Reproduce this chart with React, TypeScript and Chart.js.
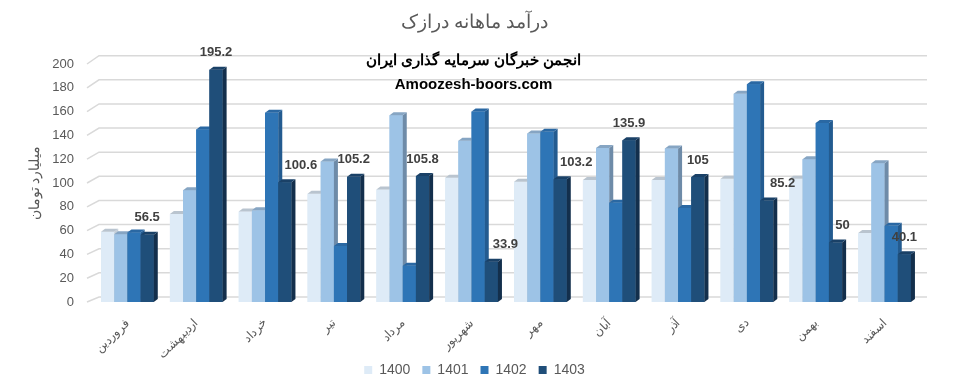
import React, { useEffect, useRef } from "react";
import { Chart, registerables } from "chart.js";

Chart.register(...registerables);

// Monthly revenue (billion toman) per Persian month, one array per fiscal year
const months = [
  "فروردین",
  "اردیبهشت",
  "خرداد",
  "تیر",
  "مرداد",
  "شهریور",
  "مهر",
  "آبان",
  "آذر",
  "دی",
  "بهمن",
  "اسفند",
];
const years = ["1400", "1401", "1402", "1403"];
const rev1400 = [59, 74, 76, 91, 94.5, 104.5, 101, 102.5, 102.5, 103.5, 103.5, 58];
const rev1401 = [57, 94, 77, 118, 157, 135.5, 141.5, 129.5, 129, 175, 120, 116.5];
const rev1402 = [58.5, 145, 159, 47, 30.5, 160, 143, 83.5, 79, 183, 150.5, 64];
const rev1403 = [56.5, 195.2, 100.6, 105.2, 105.8, 33.9, 103.2, 135.9, 105, 85.2, 50, 40.1];
const yMin = 0;
const yMax = 200;
const yStep = 20;

const chartTitle = "درآمد ماهانه درازک";
const yTitle = "میلیارد تومان";
const brandLine1 = "انجمن خبرگان سرمایه گذاری ایران";
const brandLine2 = "Amoozesh-boors.com";

// face colours for the pseudo-3D columns: front, top cap, right side
const FRONT = ["#DEEBF7", "#9DC3E6", "#2E75B6", "#1F4E79"];
const TOP = ["#B9C4CF", "#86A5C3", "#2A68A3", "#1A4167"];
const SIDE = ["#C4CED8", "#6E8BA8", "#235B90", "#132F4C"];
const DEPTH_X = 4;
const DEPTH_Y = 3;

// horizontal shift of a few value labels so they clear the neighbouring column
const LABEL_SHIFT: Record<number, number> = { 2: 16, 5: 14, 6: 16, 9: 16, 10: 7 };

const FONT = "'Liberation Sans', Arial, sans-serif";
const GREY = "#595959";

const backWallGrid = {
  id: "backWallGrid",
  beforeDatasetsDraw(chart: any) {
    const { ctx, chartArea, scales } = chart;
    const ys = scales.y;
    ctx.save();
    ctx.strokeStyle = "#D9D9D9";
    ctx.lineWidth = 1.5;
    for (const t of ys.ticks) {
      const v = t.value;
      const yf = ys.getPixelForValue(v);
      const yb = yf - (5 + (3.3 * v) / yMax);
      ctx.beginPath();
      ctx.moveTo(chartArea.left - 6, yf);
      ctx.lineTo(chartArea.left + 6, yb);
      ctx.lineTo(chartArea.right + 8, yb);
      ctx.stroke();
    }
    ctx.restore();
  },
};

const columns3d = {
  id: "columns3d",
  afterDatasetsDraw(chart: any) {
    const { ctx } = chart;
    const metas = chart.data.datasets.map((_: any, i: number) => chart.getDatasetMeta(i));
    const n = chart.data.labels.length;
    ctx.save();
    for (let j = 0; j < n; j++) {
      metas.forEach((meta: any, i: number) => {
        const el = meta.data[j];
        if (!el) return;
        const { x, y, base, width } = el.getProps(["x", "y", "base", "width"], true);
        const l = x - width / 2;
        const r = x + width / 2;
        ctx.fillStyle = FRONT[i];
        ctx.fillRect(l, y, width, base - y);
        ctx.fillStyle = SIDE[i];
        ctx.beginPath();
        ctx.moveTo(r, y);
        ctx.lineTo(r + DEPTH_X, y - DEPTH_Y);
        ctx.lineTo(r + DEPTH_X, base - DEPTH_Y);
        ctx.lineTo(r, base);
        ctx.closePath();
        ctx.fill();
        ctx.fillStyle = TOP[i];
        ctx.beginPath();
        ctx.moveTo(l, y);
        ctx.lineTo(l + DEPTH_X, y - DEPTH_Y);
        ctx.lineTo(r + DEPTH_X, y - DEPTH_Y);
        ctx.lineTo(r, y);
        ctx.closePath();
        ctx.fill();
      });
    }
    // value labels on the latest year
    const last = metas.length - 1;
    const vals = chart.data.datasets[last].data;
    ctx.fillStyle = "#404040";
    ctx.font = `bold 13px ${FONT}`;
    ctx.textAlign = "center";
    ctx.textBaseline = "middle";
    metas[last].data.forEach((el: any, j: number) => {
      const { x, y } = el.getProps(["x", "y"], true);
      ctx.fillText(String(vals[j]), x + (LABEL_SHIFT[j] || 0), y - 17);
    });
    ctx.restore();
  },
};

const brand = {
  id: "brand",
  afterDraw(chart: any) {
    const { ctx } = chart;
    const cx = chart.width / 2 - 4;
    ctx.save();
    ctx.fillStyle = "#000000";
    ctx.textAlign = "center";
    ctx.textBaseline = "middle";
    ctx.font = `bold 15px ${FONT}`;
    ctx.fillText(brandLine1, cx, 61);
    ctx.fillText(brandLine2, cx, 85);
    ctx.restore();
  },
};

export default function App() {
  const ref = useRef<HTMLCanvasElement | null>(null);

  useEffect(() => {
    if (!ref.current) return;
    Chart.defaults.font.family = FONT;
    const series = [rev1400, rev1401, rev1402, rev1403];
    const chart = new Chart(ref.current, {
      type: "bar",
      data: {
        labels: months,
        datasets: years.map((yr, i) => ({
          label: yr,
          data: series[i],
          backgroundColor: FRONT[i],
          borderWidth: 0,
          categoryPercentage: 0.766,
          barPercentage: 1,
        })),
      },
      options: {
        animation: false,
        responsive: false,
        events: [],
        layout: { padding: { left: 0, right: 6, top: 0, bottom: 0 } },
        scales: {
          x: {
            grid: { display: false, drawTicks: false },
            border: { display: false },
            ticks: {
              color: GREY,
              font: { size: 12 },
              minRotation: 45,
              maxRotation: 45,
              padding: 14,
            },
            afterFit: (s: any) => {
              s.height = 49;
              // the slanted month names run a little past the axis box; keep them whole
              s._computeLabelArea = () => undefined;
            },
          },
          y: {
            min: yMin,
            max: yMax,
            grid: { display: false, drawTicks: false },
            border: { display: false },
            ticks: { stepSize: yStep, color: GREY, font: { size: 13 }, padding: 19 },
            title: {
              display: true,
              text: yTitle,
              color: GREY,
              font: { size: 14 },
              padding: { top: 27, bottom: 0 },
            },
            afterFit: (s: any) => {
              s.width = 93;
            },
          },
          // empty right-hand gutter that keeps the back wall's depth clear of the edge
          gutter: {
            type: "linear",
            position: "right",
            display: true,
            grid: { display: false, drawTicks: false },
            border: { display: false },
            ticks: { display: false },
            afterFit: (s: any) => {
              s.width = 30;
            },
          },
        },
        plugins: {
          title: {
            display: true,
            text: chartTitle,
            color: GREY,
            font: { size: 19, weight: "normal" },
            padding: { top: 11, bottom: 30.2 },
          },
          legend: {
            position: "bottom",
            labels: {
              color: GREY,
              font: { size: 14 },
              boxWidth: 8,
              boxHeight: 8,
              padding: 12,
            },
          },
          tooltip: { enabled: false },
        },
      },
      plugins: [backWallGrid, columns3d, brand],
    });
    return () => chart.destroy();
  }, []);

  return (
    <div style={{ position: "fixed", left: 0, top: 0, width: 955, height: 387, background: "#fff" }}>
      <canvas ref={ref} width={955} height={387} />
    </div>
  );
}
